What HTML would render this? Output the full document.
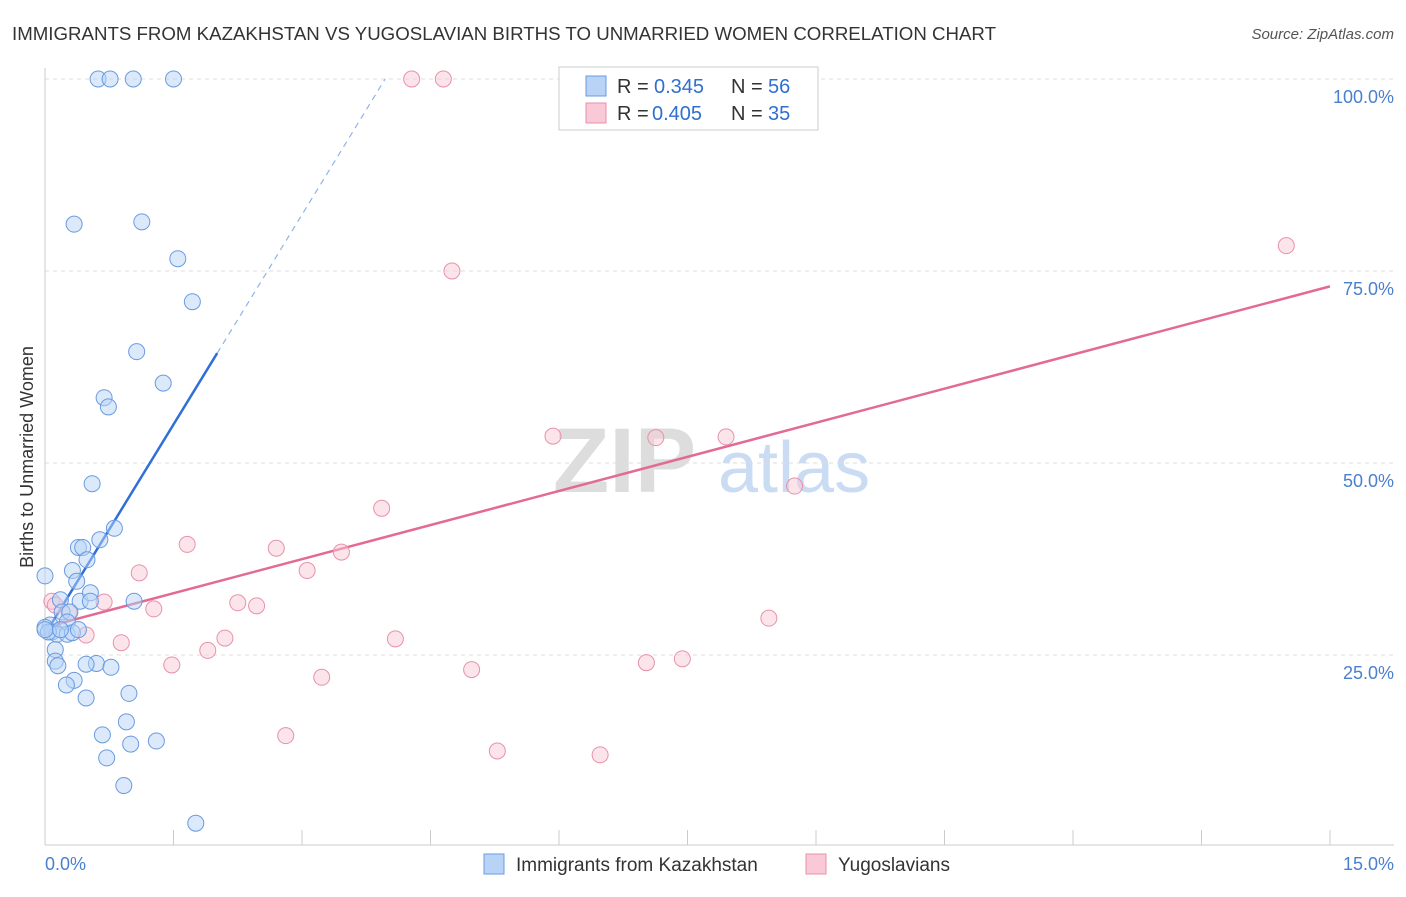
<!DOCTYPE html>
<html><head><meta charset="utf-8"><style>
body{margin:0;background:#fff;font-family:"Liberation Sans",sans-serif;}
svg text{font-family:"Liberation Sans",sans-serif;}
</style></head><body>
<svg id="chart" width="1406" height="892">
<text x="12" y="40" font-size="18" fill="#333" textLength="984" lengthAdjust="spacingAndGlyphs">IMMIGRANTS FROM KAZAKHSTAN VS YUGOSLAVIAN BIRTHS TO UNMARRIED WOMEN CORRELATION CHART</text>
<text x="1394" y="39" font-size="15" fill="#555" font-style="italic" text-anchor="end">Source: ZipAtlas.com</text>
<text x="33" y="457" font-size="18" fill="#333" text-anchor="middle" transform="rotate(-90 33 457)">Births to Unmarried Women</text>
<g><text x="553" y="492" font-size="92" fill="#ddd" font-family="Liberation Serif" font-weight="bold">ZIP</text><text x="718" y="492" font-size="72" fill="#c9dcf3">atlas</text></g>
<g id="grid"></g><g id="lines"></g><g id="pts"></g>
<g>
<rect x="559" y="67" width="259" height="63" fill="#fff" stroke="#ccc"/>
<rect x="586" y="76" width="20" height="20" fill="#b8d3f5" stroke="#6a9be0"/>
<text x="617" y="93" font-size="20" fill="#333">R =</text><text x="654" y="93" font-size="20" fill="#2f6fd0">0.345</text>
<text x="731" y="93" font-size="20" fill="#333">N =</text><text x="768" y="93" font-size="20" fill="#2f6fd0">56</text>
<rect x="586" y="103" width="20" height="20" fill="#f9c9d7" stroke="#e891ab"/>
<text x="617" y="120" font-size="20" fill="#333">R =</text><text x="652" y="120" font-size="20" fill="#2f6fd0">0.405</text>
<text x="731" y="120" font-size="20" fill="#333">N =</text><text x="768" y="120" font-size="20" fill="#2f6fd0">35</text>
</g>
<g>
<rect x="484" y="854" width="20" height="20" fill="#b8d3f5" stroke="#6a9be0"/>
<text x="516" y="871" font-size="19" fill="#333">Immigrants from Kazakhstan</text>
<rect x="806" y="854" width="20" height="20" fill="#f9c9d7" stroke="#e891ab"/>
<text x="838" y="871" font-size="19" fill="#333">Yugoslavians</text>
</g>
<text x="45" y="870" font-size="18" fill="#4a7fd0">0.0%</text>
<text x="1394" y="870" font-size="18" fill="#4a7fd0" text-anchor="end">15.0%</text>
</svg>
<script>
const yTicks=[25,50,75,100];
const xTicks=[0,1.5,3,4.5,6,7.5,9,10.5,12,13.5,15];
const blueX=[0.62,0.76,1.03,1.5,0.34,1.13,1.55,1.72,1.07,1.38,0.69,0.74,0.55,0.81,0.64,0.39,0.44,0.49,0.32,0.37,0,0.18,0.41,0.53,0.53,1.04,0.2,0.29,0.06,0.26,0,0.08,0.14,0.26,0.32,0.12,0.12,0.15,0.6,0.48,0.77,0.34,0.25,0.48,0.98,0.95,0.67,1.0,1.3,0.72,0.92,1.76,0.04,0,0.18,0.39];
const blueY=[100,100,100,100,81.1,81.4,76.6,71,64.5,60.4,58.5,57.3,47.3,41.5,40,39,39,37.4,36,34.6,35.3,32.2,32,33.1,32,32,30.6,30.6,28.9,29.3,28.6,28,27.7,27.7,27.9,25.7,24.2,23.6,23.9,23.8,23.4,21.7,21.1,19.4,20,16.3,14.6,13.4,13.8,11.6,8,3.1,28,28.3,28.3,28.3];
const pinkX=[4.28,4.65,14.49,4.75,5.93,7.13,7.95,8.75,3.93,1.66,2.7,3.46,1.1,3.06,0.69,1.27,2.25,2.47,0.08,0.28,0.48,0.89,2.1,4.09,1.9,8.45,1.48,4.98,7.02,7.44,3.23,2.81,5.28,6.48,0.12];
const pinkY=[100,100,78.3,75,53.5,53.3,53.4,47,44.1,39.4,38.9,38.4,35.7,36,31.9,31,31.8,31.4,32,30.6,27.6,26.6,27.2,27.1,25.6,29.8,23.7,23.1,24,24.5,22.1,14.5,12.5,12,31.5];
const blueLine=[[0,27.7],[2.01,64.3]], blueDash=[[2.01,64.3],[3.97,100]];
const pinkLine=[[0,28.6],[15,73]];
const ns="http://www.w3.org/2000/svg";
const sx=v=>45+v/15*1285, sy=v=>847-v/100*768;
function mk(t,a,p){const e=document.createElementNS(ns,t);for(const k in a)e.setAttribute(k,a[k]);p.appendChild(e);return e;}
const grid=document.getElementById('grid'),lines=document.getElementById('lines'),pts=document.getElementById('pts');
yTicks.forEach(v=>{
 const l=mk('line',{x1:45,x2:1394,y1:sy(v),y2:sy(v),stroke:'#ddd','stroke-dasharray':'4,4'},grid);
 
 
 const t=mk('text',{x:1394,y:sy(v)+24,'font-size':18,fill:'#4a7fd0','text-anchor':'end'},grid);t.textContent=v.toFixed(1)+'%';
 
 
});
mk('line',{x1:45,x2:45,y1:68,y2:845,stroke:'#ccc'},grid);
mk('line',{x1:45,x2:1394,y1:845,y2:845,stroke:'#ccc'},grid);
xTicks.forEach(v=>{const l=mk('line',{x1:sx(v),x2:sx(v),y1:830,y2:845,stroke:'#ccc'},grid);
 
 });
function dot(x,y,f,s,name){const c=mk('circle',{cx:sx(x),cy:sy(y),r:8,fill:f,'fill-opacity':0.5,stroke:s,'stroke-width':1},pts);
 
 }
pinkX.forEach((x,i)=>dot(x,pinkY[i],'#f9c9d7','#e891ab','yugoslavian-point'));
blueX.forEach((x,i)=>dot(x,blueY[i],'#b8d3f5','#6a9be0','kazakhstan-point'));
function ln(p,c,d,w,name){const l=mk('line',{x1:sx(p[0][0]),y1:sy(p[0][1]),x2:sx(p[1][0]),y2:sy(p[1][1]),stroke:c,'stroke-width':w},lines);if(d)l.setAttribute('stroke-dasharray',d);
 
 }
ln(pinkLine,'#e36a96',null,2.5,'yugoslavian-trendline');
ln(blueLine,'#2e6fd8',null,2.5,'kazakhstan-trendline');
ln(blueDash,'#8fb4e8','6,5',1.2,'kazakhstan-trendline-extension');
</script>
</body></html>
